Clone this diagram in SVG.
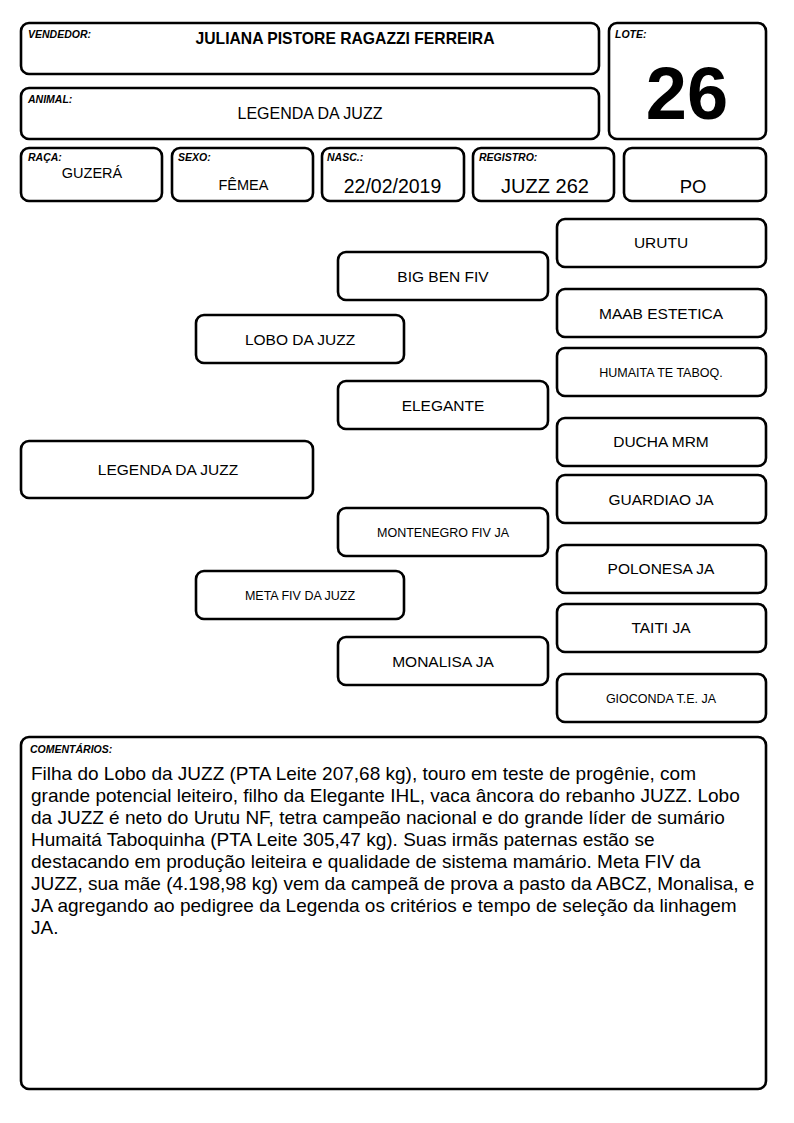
<svg xmlns="http://www.w3.org/2000/svg" width="794" height="1123" viewBox="0 0 794 1123">
<style>
.box{fill:#fff;stroke:#000;stroke-width:2.6}
.lbl{font-family:"Liberation Sans",Arial,sans-serif;font-size:10.5px;font-weight:bold;font-style:italic;fill:#000}
.t{font-family:"Liberation Sans",Arial,sans-serif;font-size:15.5px;fill:#000;text-anchor:middle}
.s{font-size:12.5px}
.v{font-family:"Liberation Sans",Arial,sans-serif;fill:#000;text-anchor:middle}
.c{font-family:"Liberation Sans",Arial,sans-serif;font-size:19px;fill:#000}
</style>
<rect width="794" height="1123" fill="#fff"/>
<g id="vendedor"><rect class="box" x="21" y="23" width="578" height="51" rx="8"/><text class="lbl" x="28" y="38">VENDEDOR:</text><text class="v" x="345" y="44" font-size="15.7" font-weight="bold">JULIANA PISTORE RAGAZZI FERREIRA</text></g>
<g id="lote"><rect class="box" x="609" y="23" width="157" height="116" rx="8"/><text class="lbl" x="615" y="38">LOTE:</text><text class="v" x="687" y="119" font-size="74" font-weight="bold">26</text></g>
<g id="animal"><rect class="box" x="21" y="88" width="578" height="51" rx="8"/><text class="lbl" x="28" y="103">ANIMAL:</text><text class="v" x="310" y="119" font-size="16">LEGENDA DA JUZZ</text></g>
<g id="raca"><rect class="box" x="21" y="148" width="141" height="53" rx="8"/><text class="lbl" x="28" y="161">RAÇA:</text><text class="v" x="92" y="178" font-size="14.5">GUZERÁ</text></g>
<g id="sexo"><rect class="box" x="172" y="148" width="141" height="53" rx="8"/><text class="lbl" x="178" y="161">SEXO:</text><text class="v" x="243.5" y="190" font-size="14.5">FÊMEA</text></g>
<g id="nasc"><rect class="box" x="322" y="148" width="142" height="53" rx="8"/><text class="lbl" x="327" y="161">NASC.:</text><text class="v" x="392.5" y="193" font-size="19.5">22/02/2019</text></g>
<g id="registro"><rect class="box" x="473" y="148" width="141" height="53" rx="8"/><text class="lbl" x="479" y="161">REGISTRO:</text><text class="v" x="545" y="193" font-size="20">JUZZ 262</text></g>
<g id="categoria"><rect class="box" x="624" y="148" width="142" height="53" rx="8"/><text class="v" x="693" y="193" font-size="18.5">PO</text></g>
<g id="connectors"/>
<g id="p-legenda"><rect class="box" x="21" y="441" width="292" height="57" rx="8"/><text class="t" x="168" y="475">LEGENDA DA JUZZ</text></g>
<g id="p-lobo"><rect class="box" x="196" y="315" width="208" height="48" rx="8"/><text class="t" x="300" y="345">LOBO DA JUZZ</text></g>
<g id="p-meta"><rect class="box" x="196" y="571" width="208" height="48" rx="8"/><text class="t s" x="300" y="600">META FIV DA JUZZ</text></g>
<g id="p-bigben"><rect class="box" x="338" y="252" width="210" height="48" rx="8"/><text class="t" x="443" y="281.5">BIG BEN FIV</text></g>
<g id="p-elegante"><rect class="box" x="338" y="381" width="210" height="48" rx="8"/><text class="t" x="443" y="410.5">ELEGANTE</text></g>
<g id="p-montenegro"><rect class="box" x="338" y="508" width="210" height="48" rx="8"/><text class="t s" x="443" y="536.5">MONTENEGRO FIV JA</text></g>
<g id="p-monalisa"><rect class="box" x="338" y="637" width="210" height="48" rx="8"/><text class="t" x="443" y="666.5">MONALISA JA</text></g>
<g id="p-urutu"><rect class="box" x="557" y="219" width="209" height="48" rx="8"/><text class="t" x="661" y="248">URUTU</text></g>
<g id="p-maab"><rect class="box" x="557" y="289" width="209" height="48" rx="8"/><text class="t" x="661" y="318.5">MAAB ESTETICA</text></g>
<g id="p-humaita"><rect class="box" x="557" y="348" width="209" height="48" rx="8"/><text class="t s" x="661" y="376.5">HUMAITA TE TABOQ.</text></g>
<g id="p-ducha"><rect class="box" x="557" y="418" width="209" height="48" rx="8"/><text class="t" x="661" y="447">DUCHA MRM</text></g>
<g id="p-guardiao"><rect class="box" x="557" y="475" width="209" height="48" rx="8"/><text class="t" x="661" y="504.5">GUARDIAO JA</text></g>
<g id="p-polonesa"><rect class="box" x="557" y="545" width="209" height="48" rx="8"/><text class="t" x="661" y="574">POLONESA JA</text></g>
<g id="p-taiti"><rect class="box" x="557" y="604" width="209" height="48" rx="8"/><text class="t" x="661" y="633">TAITI JA</text></g>
<g id="p-gioconda"><rect class="box" x="557" y="674" width="209" height="48" rx="8"/><text class="t s" x="661" y="702.5">GIOCONDA T.E. JA</text></g>
<g id="comentarios"><rect class="box" x="21" y="737" width="745" height="352" rx="8"/><text class="lbl" x="30" y="753">COMENTÁRIOS:</text>
<text class="c"><tspan x="31" y="780">Filha do Lobo da JUZZ (PTA Leite 207,68 kg), touro em teste de progênie, com</tspan><tspan x="31" y="802">grande potencial leiteiro, filho da Elegante IHL, vaca âncora do rebanho JUZZ. Lobo</tspan><tspan x="31" y="824">da JUZZ é neto do Urutu NF, tetra campeão nacional e do grande líder de sumário</tspan><tspan x="31" y="846">Humaitá Taboquinha (PTA Leite 305,47 kg). Suas irmãs paternas estão se</tspan><tspan x="31" y="868">destacando em produção leiteira e qualidade de sistema mamário. Meta FIV da</tspan><tspan x="31" y="890">JUZZ, sua mãe (4.198,98 kg) vem da campeã de prova a pasto da ABCZ, Monalisa, e</tspan><tspan x="31" y="912">JA agregando ao pedigree da Legenda os critérios e tempo de seleção da linhagem</tspan><tspan x="31" y="934">JA.</tspan></text></g>
</svg>
